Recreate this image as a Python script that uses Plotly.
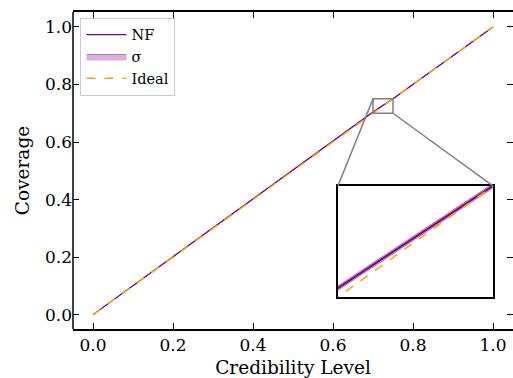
import plotly.graph_objects as go

# Data
cred_level = [0.00, 0.05, 0.10, 0.15, 0.20, 0.25, 0.30, 0.35, 0.40, 0.45, 0.50,
              0.55, 0.60, 0.65, 0.70, 0.75, 0.80, 0.85, 0.90, 0.95, 1.00]
nf_coverage = [0.000, 0.0505, 0.1008, 0.1510, 0.2012, 0.2515, 0.3018, 0.3520, 0.4022, 0.4525, 0.5028,
               0.5532, 0.6036, 0.6538, 0.7040, 0.7502, 0.8003, 0.8503, 0.9002, 0.9502, 1.000]
nf_sigma = [0.000, 0.0008, 0.0008, 0.0008, 0.0008, 0.0008, 0.0008, 0.0008, 0.0008, 0.0008, 0.0008,
            0.0008, 0.0008, 0.0008, 0.0010, 0.0010, 0.0008, 0.0008, 0.0008, 0.0008, 0.000]
ideal = [0.0, 1.0]
ideal_x = [0.0, 1.0]
zoom_x = [0.70, 0.75]
zoom_y = [0.70, 0.75]
tick_vals = [0, 0.2, 0.4, 0.6, 0.8, 1.0]
tick_text = ["0.0", "0.2", "0.4", "0.6", "0.8", "1.0"]

PURPLE = "#800080"
ORANGE = "orange"
FONT = "DejaVu Serif"

upper = [c + s for c, s in zip(nf_coverage, nf_sigma)]
lower = [c - s for c, s in zip(nf_coverage, nf_sigma)]

fig = go.Figure()


def add_traces(xa, ya, show, lw):
    fig.add_trace(go.Scatter(x=cred_level, y=nf_coverage, mode="lines", name="NF",
                             line=dict(color=PURPLE, width=lw), xaxis=xa, yaxis=ya,
                             showlegend=show, legendgroup="nf"))
    fig.add_trace(go.Scatter(x=cred_level + cred_level[::-1], y=upper + lower[::-1],
                             fill="toself", mode="lines", name="σ",
                             fillcolor="rgba(128,0,128,0.3)",
                             line=dict(color="rgba(128,0,128,0.45)", width=1),
                             xaxis=xa, yaxis=ya, showlegend=show, legendgroup="sig"))
    fig.add_trace(go.Scatter(x=ideal_x, y=ideal, mode="lines", name="Ideal",
                             line=dict(color=ORANGE, width=1.5, dash="dash"),
                             xaxis=xa, yaxis=ya, showlegend=show, legendgroup="ideal"))


add_traces("x", "y", True, 1.2)
add_traces("x2", "y2", False, 2)

W, H = 513, 378
ml, mr, mt, mb = 73, 0, 12, 49
xr = [-0.05, 1.05]
yr = [-0.05, 1.052]
ins_x = [0.602, 0.955]
ins_y = [0.101, 0.451]

tick_common = dict(ticks="inside", ticklen=6, tickwidth=1.2, tickcolor="black",
                   showgrid=False, zeroline=False, tickvals=tick_vals, ticktext=tick_text,
                   automargin=False,
                   tickfont=dict(family=FONT, size=17, color="black"))

fig.update_layout(
    width=W, height=H,
    margin=dict(l=ml, r=mr, t=mt, b=mb, autoexpand=False),
    paper_bgcolor="white", plot_bgcolor="white",
    font=dict(family=FONT, color="black"),
    xaxis=dict(range=xr, showline=True, linecolor="black", linewidth=1.5, mirror="allticks",
               title=dict(text="Credibility Level", font=dict(family=FONT, size=18.5), standoff=15),
               **tick_common),
    yaxis=dict(range=yr, showline=False, mirror="allticks",
               title=dict(text="Coverage", font=dict(family=FONT, size=18.5), standoff=10),
               **tick_common),
    xaxis2=dict(domain=ins_x, anchor="y2", range=zoom_x, showticklabels=False, ticks="",
                showline=True, mirror=True, linecolor="black", linewidth=1.5,
                showgrid=False, zeroline=False),
    yaxis2=dict(domain=ins_y, anchor="x2", range=zoom_y, showticklabels=False, ticks="",
                showline=True, mirror=True, linecolor="black", linewidth=1.5,
                showgrid=False, zeroline=False),
    legend=dict(x=0.017, y=0.982, xanchor="left", yanchor="top",
                bgcolor="rgba(255,255,255,0.8)", bordercolor="#cccccc", borderwidth=1,
                font=dict(family=FONT, size=14.5), tracegroupgap=0, itemwidth=40),
    showlegend=True,
)

# left spine (right spine lies just outside the picture)
fig.add_shape(type="line", xref="paper", yref="paper", x0=0, x1=0, y0=0, y1=1,
              line=dict(color="black", width=1.5))

# zoom rectangle on main axes
fig.add_shape(type="rect", xref="x", yref="y", x0=zoom_x[0], x1=zoom_x[1],
              y0=zoom_y[0], y1=zoom_y[1], line=dict(color="gray", width=1.5))


def dom_to_data(d, r):
    return r[0] + d * (r[1] - r[0])


# connector lines
fig.add_shape(type="line", xref="x", yref="y",
              x0=zoom_x[0], y0=zoom_y[1],
              x1=dom_to_data(ins_x[0], xr), y1=dom_to_data(ins_y[1], yr),
              line=dict(color="gray", width=1.5))
fig.add_shape(type="line", xref="x", yref="y",
              x0=zoom_x[1], y0=zoom_y[0],
              x1=dom_to_data(ins_x[1], xr), y1=dom_to_data(ins_y[1], yr),
              line=dict(color="gray", width=1.5))

fig.write_html("out.html")
